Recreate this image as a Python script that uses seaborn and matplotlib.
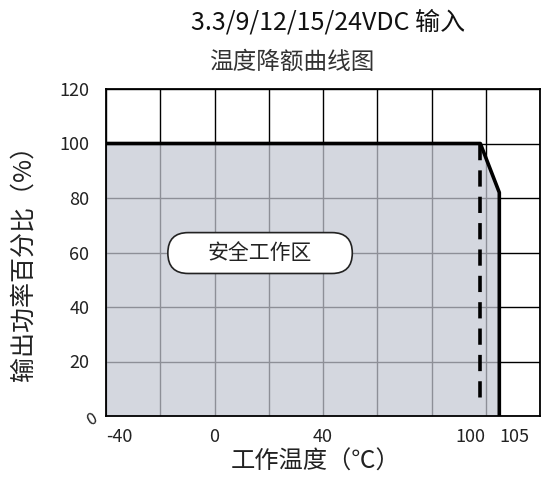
import numpy as np
import pandas as pd
import seaborn as sns
import matplotlib.pyplot as plt
from matplotlib.patches import FancyBboxPatch

# Kurvendaten
temp = [-40, 98, 105, 105]
power = [100, 100, 82, 0]
dash_temp = [98, 98]
dash_power = [100, 4]

x_ticks = [-40, 0, 40, 100, 105]
x_labels = ['-40', '0', '40', '100', '105']
y_ticks = [20, 40, 60, 80, 100, 120]
y_labels = ['20', '40', '60', '80', '100', '120']
x_grid = np.arange(-40, 121, 20)
y_grid = np.arange(0, 121, 20)

title = '3.3/9/12/15/24VDC 输入'
subtitle = '温度降额曲线图'
xlabel = '工作温度（℃）'
ylabel = '输出功率百分比（%）'
zone_label = '安全工作区'

sns.set_theme(style='white')
plt.rcParams['font.family'] = ['Noto Sans CJK SC', 'DejaVu Sans']

df = pd.DataFrame({'temp': temp, 'power': power})

fig = plt.figure(figsize=(5.42, 4.82), dpi=100)
ax = fig.add_axes([106 / 542, 1 - 416 / 482, 434 / 542, 327 / 482])

ax.set_xlim(-40, 120)
ax.set_ylim(0, 120)

# Gitter
for gx in x_grid:
    ax.axvline(gx, color='black', linewidth=1.0, zorder=1)
for gy in y_grid:
    ax.axhline(gy, color='black', linewidth=1.0, zorder=1)

# Sicherer Bereich
ax.fill_between(df['temp'], df['power'], color='#c4c8d3', alpha=0.72, zorder=2, linewidth=0)
sns.lineplot(data=df, x='temp', y='power', ax=ax, color='black', linewidth=2.6,
             estimator=None, sort=False, zorder=4)
ax.plot(dash_temp, dash_power, color='black', linewidth=2.6, dashes=(4.5, 2.8), zorder=4)

# Beschriftung Sicherer Bereich
box = FancyBboxPatch((16.8 - 34, 59.8 - 7.5), 68, 15,
                     boxstyle='round,pad=0,rounding_size=7.5',
                     facecolor='white', edgecolor='#222222', linewidth=1.2, zorder=5)
ax.add_patch(box)
ax.text(16.8, 59.8, zone_label, ha='center', va='center', fontsize=15, color='#222222', zorder=6)

# Achsen
ax.set_xticks(x_ticks)
ax.set_xticklabels(x_labels, fontsize=13, color='#222222')
ax.set_yticks(y_ticks)
ax.set_yticklabels(y_labels, fontsize=13, color='#222222')
for lbl, ha in zip(ax.get_xticklabels(), ['left', 'center', 'center', 'right', 'left']):
    lbl.set_ha(ha)
ax.tick_params(axis='both', which='both', length=0)
ax.tick_params(axis='x', pad=9)
ax.tick_params(axis='y', pad=12)
ax.annotate('0', xy=(-40, 0), xytext=(-10, -3), textcoords='offset points',
            ha='center', va='center', fontsize=12, style='italic', rotation=30, color='#222222')

for s in ax.spines.values():
    s.set_color('black')
    s.set_linewidth(1.3)

ax.set_xlabel(xlabel, fontsize=17.5, color='#222222', va='center')
ax.xaxis.set_label_coords(0.484, -0.141)
ax.set_ylabel(ylabel, fontsize=18, color='#222222', va='center')
ax.yaxis.set_label_coords(-0.189, 0.486)

fig.text(0.605, 0.954, title, ha='center', va='center', fontsize=18, weight='medium', color='#111111')
fig.text(0.539, 0.871, subtitle, ha='center', va='center', fontsize=17, color='#333333')

fig.savefig('out.png', dpi=100)
